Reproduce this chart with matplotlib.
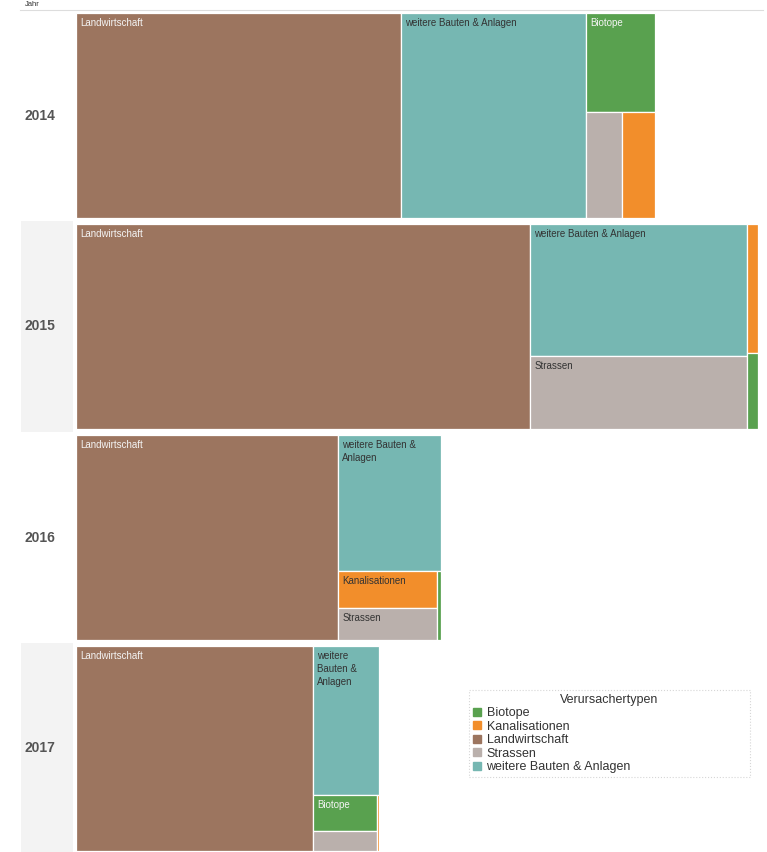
import matplotlib
matplotlib.use('Agg')
import matplotlib.pyplot as plt
from matplotlib.patches import Rectangle
from matplotlib.lines import Line2D
from matplotlib.font_manager import FontProperties

plt.rcParams['font.family'] = ['Liberation Sans', 'DejaVu Sans']

# Werte je Jahr
years = ['2014', '2015', '2016', '2017']
biotope = [33.3, 4.1, 1.35, 11.1]
kanalisationen = [17.1, 6.9, 17.9, 0.5]
landwirtschaft = [325, 454, 262, 237]
strassen = [18.6, 77.3, 15.5, 6.3]
weitere = [185, 139.7, 68.3, 47.6]

names = ['Biotope', 'Kanalisationen', 'Landwirtschaft', 'Strassen', 'weitere Bauten & Anlagen']
series = [biotope, kanalisationen, landwirtschaft, strassen, weitere]
colors = {'Biotope': '#59a14f', 'Kanalisationen': '#f28e2b', 'Landwirtschaft': '#9c755f',
          'Strassen': '#bab0ac', 'weitere Bauten & Anlagen': '#76b7b2'}
text_colors = {'Biotope': '#f4f4f4', 'Kanalisationen': '#333333', 'Landwirtschaft': '#f4f4f4',
               'Strassen': '#333333', 'weitere Bauten & Anlagen': '#333333'}

W, H = 767, 852
fig = plt.figure(figsize=(W / 100, H / 100), dpi=100)
renderer = fig.canvas.get_renderer()
label_font = FontProperties(family=['Liberation Sans', 'DejaVu Sans'], size=7)


def worst(row, side):
    s = sum(a for _, a in row)
    t = s / side
    r = 0
    for _, a in row:
        l = a / t
        r = max(r, t / l, l / t)
    return r


def treemap(items, x, y, w, h):
    # squarified, strips are filled while worst aspect ratio stays below 4
    rects = []
    items = list(items)
    while items:
        if len(items) == 1:
            rects.append((items[0][0], x, y, w, h))
            break
        side = min(w, h)
        row = [items[0]]
        i = 1
        while i < len(items):
            cand = row + [items[i]]
            if worst(cand, side) > 4:
                break
            row = cand
            i += 1
        s = sum(a for _, a in row)
        if w >= h:
            cw = s / h
            yy = y
            for n, a in row:
                rects.append((n, x, yy, cw, a / cw))
                yy += a / cw
            x += cw
            w -= cw
        else:
            rh = s / w
            xx = x
            for n, a in row:
                rects.append((n, xx, y, a / rh, rh))
                xx += a / rh
            y += rh
            h -= rh
        items = items[i:]
    return rects


def text_w(s):
    return renderer.get_text_width_height_descent(s, label_font, ismath=False)[0]


def wrap(label, maxw):
    lines = []
    cur = ''
    for word in label.split():
        trial = word if cur == '' else cur + ' ' + word
        if text_w(trial) <= maxw:
            cur = trial
        else:
            if cur == '' or text_w(word) > maxw:
                return None
            lines.append(cur)
            cur = word
    lines.append(cur)
    return lines


totals = [sum(s[i] for s in series) for i in range(len(years))]
max_total = max(totals)
left, full_w, row_h, row_gap, top0 = 76, 682, 205, 211, 13
px_per_unit = full_w / max_total
h_units = row_h / px_per_unit

# Kopfzeile
fig.text(25 / W, 1 - 5 / H, 'Jahr', fontsize=5.5, color='#333333', va='center', ha='left')
fig.add_artist(Line2D([20 / W, 763 / W], [1 - 10 / H, 1 - 10 / H], color='#dddddd', lw=0.8))

for i, yr in enumerate(years):
    top = top0 + i * row_gap
    if i % 2 == 1:
        fig.add_artist(Rectangle((21 / W, 1 - (top + row_h + 3) / H), 52 / W, (row_h + 6) / H,
                                 facecolor='#f3f3f3', edgecolor='none', zorder=0))
    fig.text(40 / W, 1 - (top + row_h / 2) / H, yr, fontsize=10, fontweight='bold',
             color='#555555', ha='center', va='center')

    ax = fig.add_axes([left / W, 1 - (top + row_h) / H, full_w / W, row_h / H])
    ax.set_xlim(0, max_total)
    ax.set_ylim(h_units, 0)
    ax.axis('off')

    items = sorted([(n, s[i] * h_units) for n, s in zip(names, series)], key=lambda t: -t[1])
    for n, x, y, w, h in treemap(items, 0, 0, totals[i], h_units):
        ax.add_patch(Rectangle((x, y), w, h, facecolor=colors[n], edgecolor='white', lw=0.9))
        wpx, hpx = w * px_per_unit, h * px_per_unit
        if hpx < 25:
            continue
        lines = wrap(n, wpx - 9)
        if lines is None or len(lines) * 13 > hpx - 6:
            continue
        ax.annotate('\n'.join(lines), xy=(x, y), xytext=(3, -3.5), textcoords='offset points',
                    fontproperties=label_font, color=text_colors[n], ha='left', va='top',
                    linespacing=1.4)

handles = [Line2D([], [], marker='s', linestyle='none', markersize=5.5, color=colors[n]) for n in names]
leg = fig.legend(handles, names, title='Verursachertypen', loc='upper left',
                 bbox_to_anchor=(469 / W, 1 - 777 / H, 281 / W, 87 / H), mode='expand',
                 fontsize=9, title_fontsize=9, handlelength=0.6, handletextpad=0.5,
                 labelspacing=0.12, borderpad=0.3, borderaxespad=0, fancybox=False,
                 frameon=True)
leg.get_frame().set_edgecolor('#cccccc')
leg.get_frame().set_linestyle(':')
leg.get_frame().set_linewidth(0.8)
for t in leg.get_texts():
    t.set_color('#333333')
leg.get_title().set_color('#333333')

fig.savefig('out.png', dpi=100)
